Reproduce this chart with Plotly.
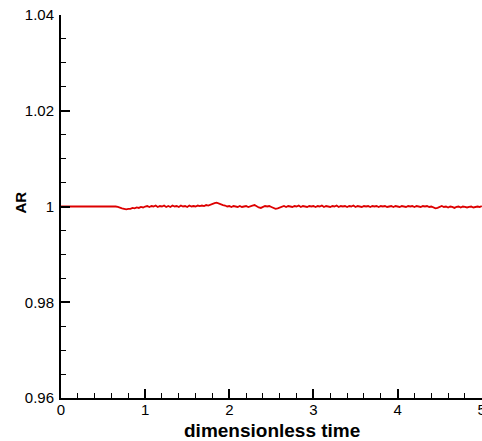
import plotly.graph_objects as go

time = [round(i * 0.025, 3) for i in range(201)]
ar = [
    # t = 0.000 .. 0.600
    1.0000, 1.0000, 1.0001, 1.0000, 1.0000, 1.0000, 1.0001, 1.0000, 1.0000, 1.0001,
    1.0000, 1.0000, 1.0001, 1.0000, 1.0000, 1.0001, 1.0000, 1.0001, 1.0000, 1.0000,
    1.0001, 1.0000, 1.0001, 1.0001, 1.0000,
    # t = 0.625 .. 1.000
    1.0001, 1.0000, 0.9999, 0.9997, 0.9996, 0.9995, 0.9994, 0.9995, 0.9995, 0.9997,
    0.9996, 0.9998, 0.9997, 0.9999, 0.9998, 1.0000,
    # t = 1.025 .. 2.000
    1.0001, 0.9999, 1.0001, 1.0000, 1.0002, 0.9999, 1.0001, 1.0000, 1.0002, 0.9999,
    1.0001, 0.9999, 1.0002, 1.0000, 1.0001, 0.9999, 1.0002, 1.0000, 1.0001, 0.9999,
    1.0002, 1.0000, 1.0001, 1.0000, 1.0002, 1.0001, 1.0002, 1.0001, 1.0003, 1.0002,
    1.0004, 1.0005, 1.0007, 1.0008, 1.0006, 1.0005, 1.0003, 1.0002, 1.0000, 1.0001,
    # t = 2.025 .. 3.000
    0.9999, 1.0001, 1.0000, 0.9999, 1.0001, 0.9999, 1.0000, 1.0001, 0.9999, 1.0001,
    1.0002, 1.0003, 1.0000, 0.9998, 0.9997, 0.9999, 1.0001, 1.0000, 1.0001, 0.9999,
    0.9997, 0.9995, 0.9996, 0.9998, 1.0000, 1.0001, 0.9999, 1.0001, 1.0000, 0.9999,
    1.0001, 1.0000, 1.0002, 0.9999, 1.0001, 1.0000, 0.9999, 1.0001, 1.0000, 1.0001,
    # t = 3.025 .. 4.000
    0.9999, 1.0001, 1.0000, 1.0002, 0.9999, 1.0001, 1.0000, 0.9999, 1.0001, 1.0000,
    1.0002, 0.9999, 1.0001, 1.0000, 1.0001, 0.9999, 1.0001, 1.0000, 1.0002, 0.9999,
    1.0001, 1.0000, 0.9999, 1.0001, 1.0000, 1.0001, 0.9999, 1.0001, 1.0000, 1.0001,
    0.9999, 1.0001, 1.0000, 1.0001, 0.9999, 1.0000, 1.0001, 0.9999, 1.0001, 1.0000,
    # t = 4.025 .. 5.000
    0.9999, 1.0001, 1.0000, 0.9999, 1.0001, 1.0000, 1.0001, 0.9999, 1.0001, 1.0000,
    0.9999, 1.0001, 1.0000, 1.0001, 0.9999, 1.0000, 0.9998, 0.9996, 0.9997, 0.9999,
    1.0001, 0.9999, 1.0000, 0.9998, 1.0000, 0.9999, 0.9997, 0.9999, 1.0000, 0.9998,
    1.0000, 0.9999, 0.9998, 0.9999, 1.0000, 0.9998, 0.9999, 1.0000, 0.9999, 1.0001,
]

x_ticks = [0, 1, 2, 3, 4, 5]
y_ticks = [0.96, 0.98, 1.00, 1.02, 1.04]
y_labels = ["0.96", "0.98", "1", "1.02", "1.04"]
x_title = "dimensionless time"
y_title = "AR"

FONT = "Liberation Sans, Arial"

fig = go.Figure()
fig.add_trace(go.Scatter(x=time, y=ar, mode="lines",
                         line=dict(color="#dd0000", width=1.8), showlegend=False))

axis_common = dict(
    showgrid=False, zeroline=False, showline=True, linecolor="black", linewidth=2,
    ticks="inside", ticklen=9, tickwidth=1.5, tickcolor="black",
    tickfont=dict(family=FONT, size=15, color="black"),
    automargin=False,
)

fig.update_layout(
    width=482, height=441,
    margin=dict(l=61, r=0, t=15, b=43, autoexpand=False),
    paper_bgcolor="white", plot_bgcolor="white",
    font=dict(family=FONT, color="black"),
    xaxis=dict(range=[0, 5.003], tickvals=x_ticks, ticktext=[str(v) for v in x_ticks],
               minor=dict(ticks="inside", ticklen=5, tickwidth=1, tickcolor="black", dtick=0.2, tick0=0),
               ticklabelstandoff=-3, ticklabeloverflow="allow",
               **axis_common),
    yaxis=dict(range=[0.96, 1.04], tickvals=y_ticks, ticktext=y_labels,
               minor=dict(ticks="inside", ticklen=5, tickwidth=1, tickcolor="black", dtick=0.005, tick0=0.96),
               ticklabelstandoff=2,
               **axis_common),
    annotations=[
        dict(text="<b>%s</b>" % x_title, xref="paper", yref="paper", x=0.5, y=-32 / 383,
             xanchor="center", yanchor="middle", showarrow=False,
             font=dict(family=FONT, size=19, color="black")),
        dict(text="<b>%s</b>" % y_title, xref="paper", yref="paper", x=-41 / 421, y=0.5 + 4 / 383,
             xanchor="center", yanchor="middle", showarrow=False, textangle=-90,
             font=dict(family=FONT, size=15, color="black")),
    ],
)

fig.write_html("out.html", config={"displayModeBar": False},
               post_script="document.body.style.margin='0';document.body.style.overflow='hidden';")
